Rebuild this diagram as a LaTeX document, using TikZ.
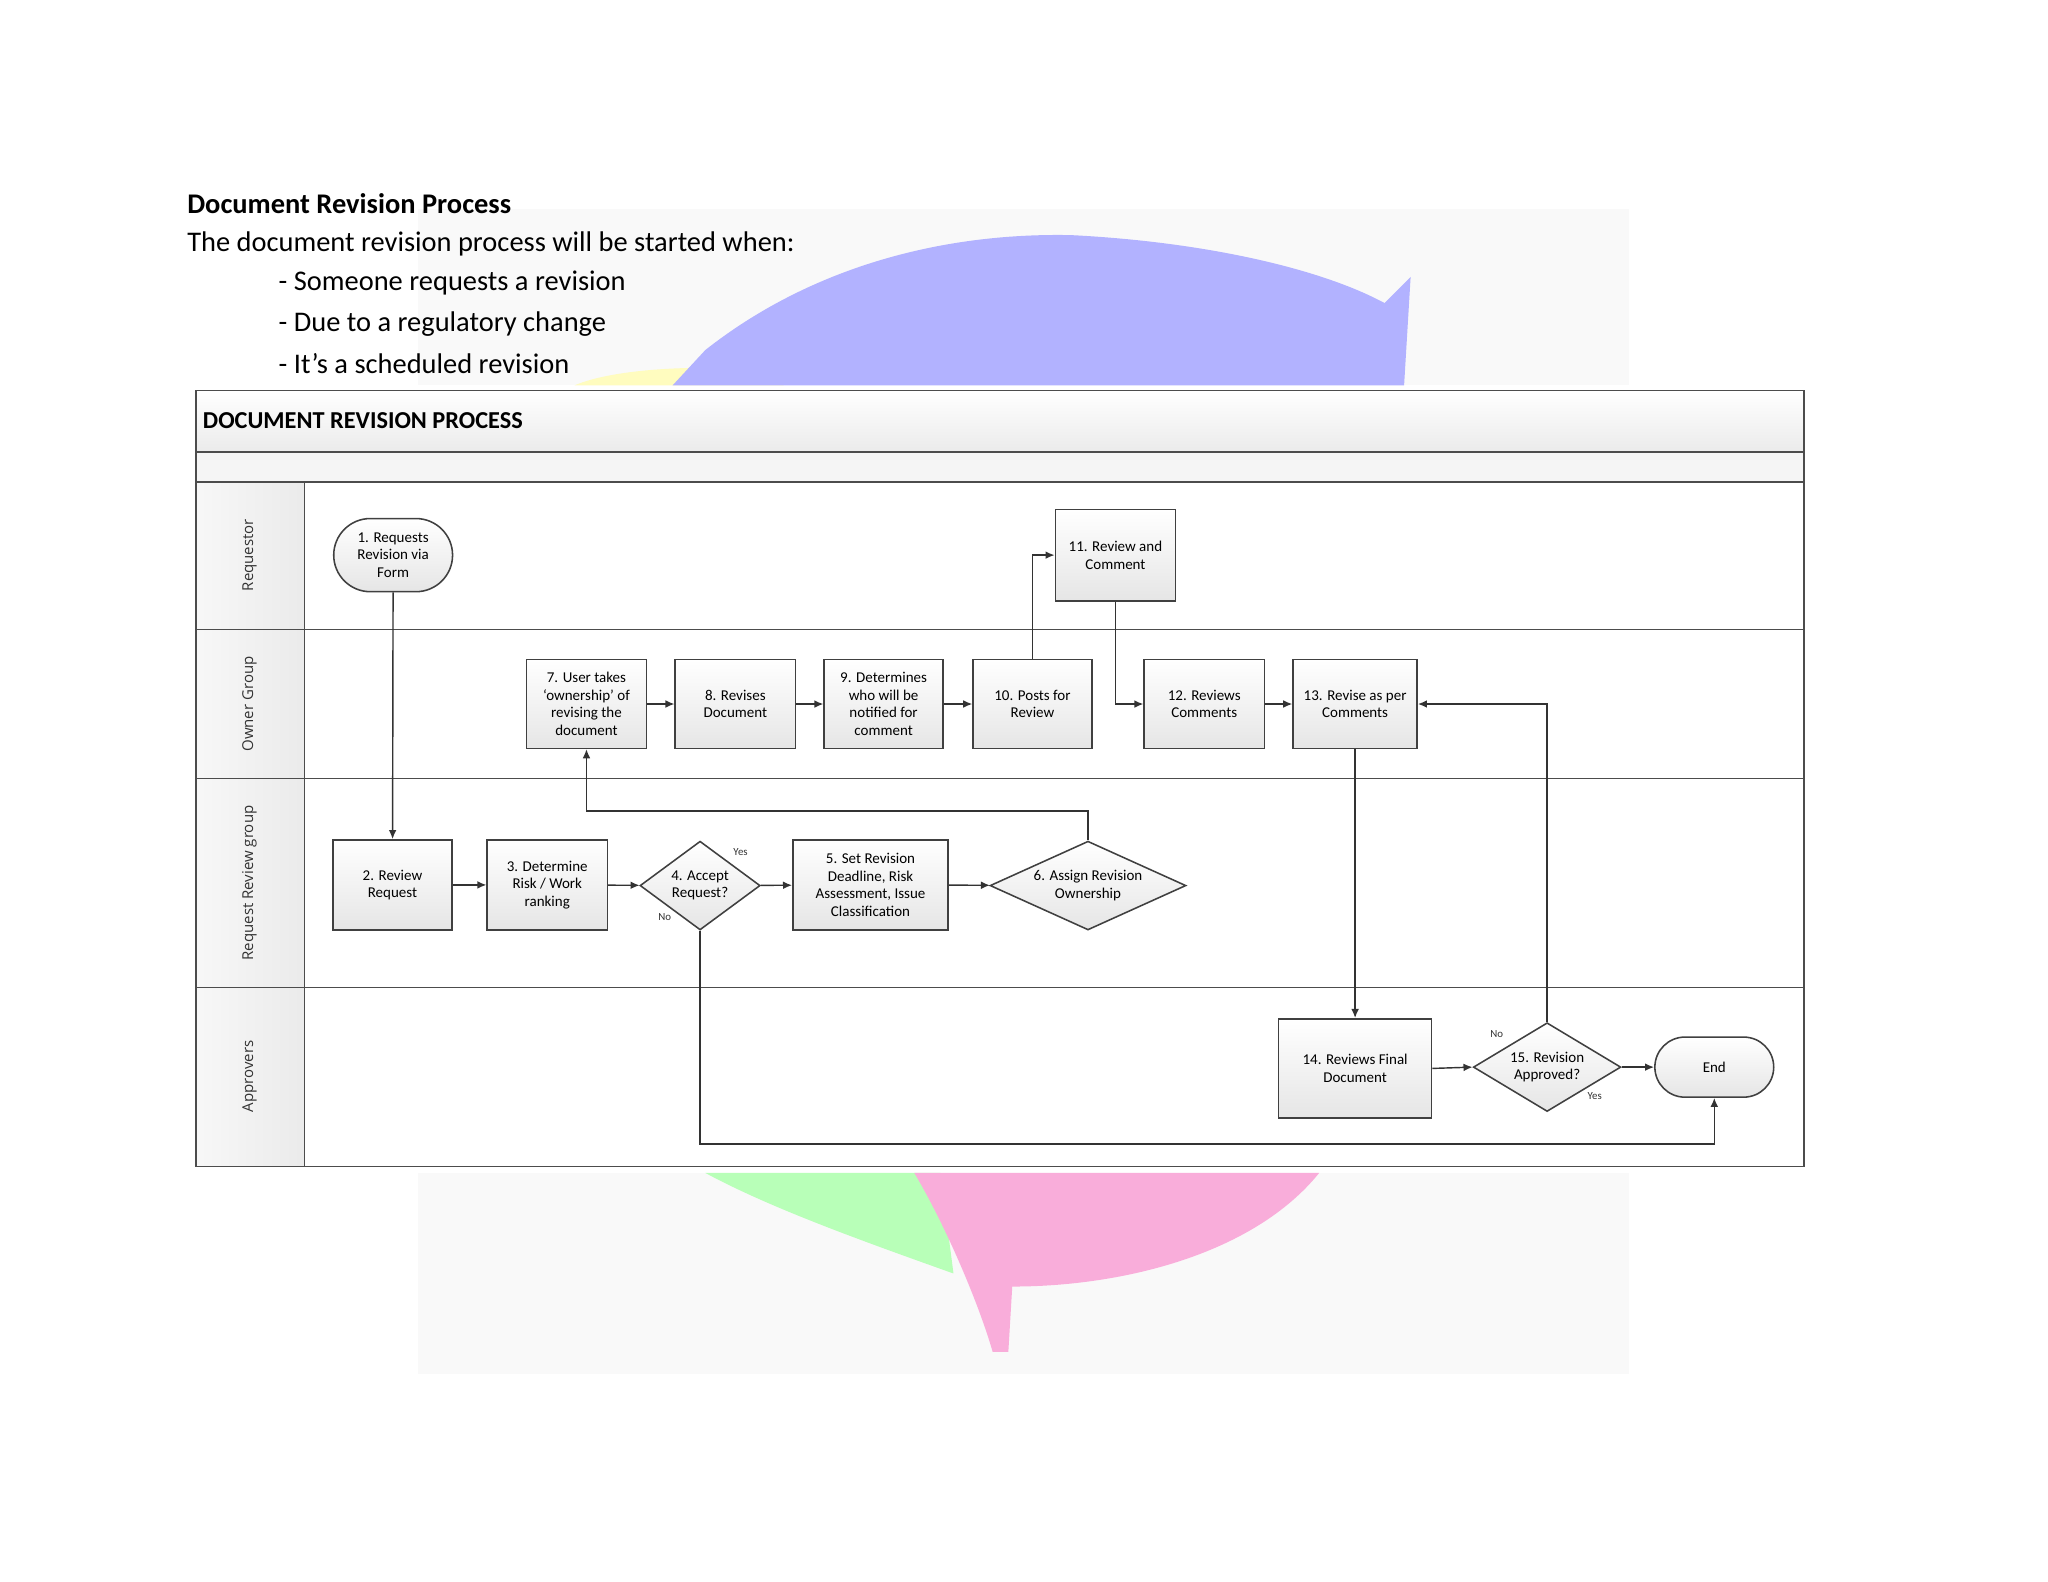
\documentclass[tikz,border=0pt]{standalone}
\usepackage{fontspec}
\setmainfont{Carlito}
\newfontfamily\lanefont{Open Sans}
\usetikzlibrary{shapes.geometric,shapes.misc,arrows.meta}
\begin{document}
\begin{tikzpicture}[x=0.505pt,y=-0.505pt,
  base/.style={draw=black!75,line width=0.6pt,top color=white,bottom color=black!10,align=center,font=\fontsize{5.8}{6.8}\selectfont,inner sep=0pt},
  box/.style={base},
  sz/.style 2 args={minimum width={#1*0.505pt},minimum height={#2*0.505pt}},
  dia/.style={base,diamond,aspect=#1},
  term/.style={base,rounded rectangle},
  arr/.style={draw=black!80,line width=0.55pt,-{Latex[length=3.5pt,width=3pt]}},
  lane/.style={font=\lanefont\fontsize{5.8}{7}\selectfont,text=black!80,rotate=90},
  small/.style={font=\fontsize{4.2}{5}\selectfont,text=black!80}]
\useasboundingbox (0,0) rectangle (1568,1211);
\fill[white] (0,0) rectangle (1568,1211);
% background picture fragments
\fill[black!2.5] (320,160) rectangle (1247,295);
\fill[yellow!25] (440,295) .. controls (470,282) and (540,278) .. (600,285) -- (600,295) -- cycle;
\fill[blue!30!white] (515,295) -- (540,268) .. controls (620,205) and (720,178) .. (820,180) .. controls (920,185) and (1010,205) .. (1060,232) -- (1080,212) -- (1075,295) -- cycle;
\fill[black!2.5] (320,898) rectangle (1247,1052);
\fill[green!28] (540,898) -- (720,898) -- (730,975) .. controls (660,950) and (590,925) .. cycle;
\fill[magenta!32] (700,898) -- (1010,898) .. controls (960,960) and (860,985) .. (775,985) -- (772,1035) -- (760,1035) .. controls (750,1000) and (725,940) .. cycle;
% header text
\node[anchor=west,font=\bfseries\fontsize{11}{13}\selectfont,inner sep=0] (h) at (143,156) {Document Revision Process};
\node[anchor=west,font=\fontsize{11}{13}\selectfont,inner sep=0] (t) at (143,187) {The document revision process will be started when:};
\node[anchor=west,font=\fontsize{11}{13}\selectfont,inner sep=0] (b1) at (213,217) {- Someone requests a revision};
\node[anchor=west,font=\fontsize{11}{13}\selectfont,inner sep=0] (b2) at (213,248) {- Due to a regulatory change};
\node[anchor=west,font=\fontsize{11}{13}\selectfont,inner sep=0] (b3) at (213,278) {- It’s a scheduled revision};
% pool
\shade[top color=white,bottom color=black!8] (150,299) rectangle (1381,346);
\fill[black!4] (150,346) rectangle (1381,369);
\shade[left color=black!3,right color=black!8] (150,369) rectangle (233,893);
\draw[black!70,line width=0.6pt] (150,299) rectangle (1381,893);
\foreach \y in {346,369,482,596,756} \draw[black!70,line width=0.6pt] (150,\y) -- (1381,\y);
\draw[black!70,line width=0.6pt] (233,369) -- (233,893);
\node[anchor=west,font=\bfseries\fontsize{9.4}{10}\selectfont,inner sep=0] (title) at (155,322) {DOCUMENT REVISION PROCESS};
\node[lane] (l1) at (191,425) {Requestor};
\node[lane] (l2) at (191,539) {Owner Group};
\node[lane] (l3) at (191,676) {Request Review group};
\node[lane] (l4) at (191,824) {Approvers};
% nodes
\node[term,sz={91}{56}] (n1) at (301,425) {1. Requests\\Revision via\\Form};
\node[box,sz={91}{69}] (n2) at (300.5,677.5) {2. Review\\Request};
\node[box,sz={92}{69}] (n3) at (419,677.5) {3. Determine\\Risk / Work\\ranking};
\node[dia=1.35,sz={92}{68}] (n4) at (536,678) {4. Accept\\Request?};
\node[box,sz={119}{69}] (n5) at (666.5,677.5) {5. Set Revision\\Deadline, Risk\\Assessment, Issue\\Classification};
\node[dia=2.2,sz={150}{68}] (n6) at (833,678) {6. Assign Revision\\Ownership};
\node[box,sz={92}{68}] (n7) at (449,539) {7. User takes\\‘ownership’ of\\revising the\\document};
\node[box,sz={92}{68}] (n8) at (563,539) {8. Revises\\Document};
\node[box,sz={91}{68}] (n9) at (676.5,539) {9. Determines\\who will be\\notified for\\comment};
\node[box,sz={91}{68}] (n10) at (790.5,539) {10. Posts for\\Review};
\node[box,sz={92}{70}] (n11) at (854,425) {11. Review and\\Comment};
\node[box,sz={92}{68}] (n12) at (922,539) {12. Reviews\\Comments};
\node[box,sz={95}{68}] (n13) at (1037.5,539) {13. Revise as per\\Comments};
\node[box,sz={117}{76}] (n14) at (1037.5,818) {14. Reviews Final\\Document};
\node[dia=1.66,sz={113}{68}] (n15) at (1184.5,817) {15. Revision\\Approved?};
\node[term,sz={91}{46}] (end) at (1312.5,817) {End};
% connectors
\draw[arr] (n1) -- (n2);
\draw[arr] (n2) -- (n3);
\draw[arr] (n3) -- (n4);
\draw[arr] (n4) -- (n5);
\draw[arr] (n5) -- (n6);
\draw[arr] (n6.north) |- (600,621) -| (n7.south);
\draw[arr] (n7) -- (n8);
\draw[arr] (n8) -- (n9);
\draw[arr] (n9) -- (n10);
\draw[arr] (n10.north) |- (n11.west);
\draw[arr] (n11.south) |- (n12.west);
\draw[arr] (n12) -- (n13);
\draw[arr] (n13.south) -- (n14.north);
\draw[arr] (n14.east) -- (n15.west);
\draw[arr] (n15.north) |- (n13.east);
\draw[arr] (n15) -- (end);
\draw[arr] (n4.south) |- (900,876) -| (end.south);
% labels
\node[small] (y4) at (567,652) {Yes};
\node[small] (no4) at (509,702) {No};
\node[small] (no15) at (1146,792) {No};
\node[small] (y15) at (1221,839) {Yes};
\end{tikzpicture}
\end{document}
